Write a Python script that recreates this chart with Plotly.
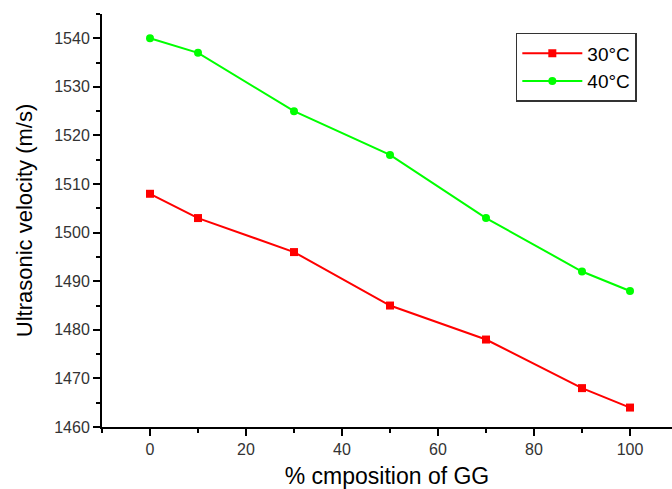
import plotly.graph_objects as go

x_vals = [0, 10, 30, 50, 70, 90, 100]
v30 = [1508, 1503, 1496, 1485, 1478, 1468, 1464]
v40 = [1540, 1537, 1525, 1516, 1503, 1492, 1488]
series_names = ["30°C", "40°C"]

fig = go.Figure()
fig.add_trace(go.Scatter(x=x_vals, y=v30, mode="lines+markers", name=series_names[0],
                         line=dict(color="#ff0000", width=2),
                         marker=dict(symbol="square", size=8, color="#ff0000")))
fig.add_trace(go.Scatter(x=x_vals, y=v40, mode="lines+markers", name=series_names[1],
                         line=dict(color="#00ff00", width=2),
                         marker=dict(symbol="circle", size=8, color="#00ff00")))

font_family = "Liberation Sans, Arial, sans-serif"
fig.update_layout(
    width=672, height=489,
    margin=dict(l=102, r=0, t=14, b=62),
    paper_bgcolor="white", plot_bgcolor="white",
    font=dict(family=font_family, color="#222"),
    showlegend=True,
    legend=dict(x=0.726, y=0.954, xanchor="left", yanchor="top",
                bgcolor="white", bordercolor="#333", borderwidth=1.5,
                font=dict(size=19, color="black"), itemwidth=60,
                tracegroupgap=0),
)
fig.update_xaxes(
    range=[-10, 108.75], tickvals=[0, 20, 40, 60, 80, 100], automargin=False,
    showgrid=False, zeroline=False, showline=True, linecolor="black", linewidth=2,
    ticks="outside", ticklen=7, tickwidth=2, tickcolor="black",
    minor=dict(ticks="outside", ticklen=4, tickwidth=2, tickcolor="black", dtick=10, tick0=0),
    tickfont=dict(size=16, color="#333"),
    title=dict(text="% cmposition of GG", font=dict(size=23, color="black"), standoff=12),
)
fig.update_yaxes(
    range=[1460, 1545], tickvals=[1460, 1470, 1480, 1490, 1500, 1510, 1520, 1530, 1540],
    automargin=False,
    showgrid=False, zeroline=False, showline=True, linecolor="black", linewidth=2,
    ticks="outside", ticklen=7, tickwidth=2, tickcolor="black",
    minor=dict(ticks="outside", ticklen=4, tickwidth=2, tickcolor="black", dtick=5, tick0=1460),
    tickfont=dict(size=16, color="#333"),
    title=dict(text="Ultrasonic velocity (m/s)", font=dict(size=22, color="black"), standoff=16),
)
fig.write_html("out.html", config={"displayModeBar": False},
               post_script="document.body.style.margin='0';")
